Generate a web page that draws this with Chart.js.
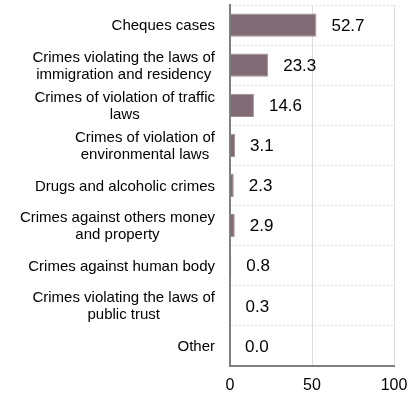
<!DOCTYPE html>
<html>
<head>
<meta charset="utf-8">
<script src="https://cdn.jsdelivr.net/npm/chart.js@4/dist/chart.umd.min.js"></script>
<style>
html,body{margin:0;padding:0;background:#fff;}
#wrap{width:419px;height:394px;position:relative;}
</style>
</head>
<body>
<div id="wrap"><canvas id="c" width="419" height="394"></canvas></div>
<script>
const categories = [
  "Cheques cases",
  ["Crimes violating the laws of", "immigration and residency"],
  ["Crimes of violation of traffic", "laws"],
  ["Crimes of violation of", "environmental laws"],
  "Drugs and alcoholic crimes",
  ["Crimes against others money", "and property"],
  "Crimes against human body",
  ["Crimes violating the laws of", "public trust"],
  "Other"
];
const values = [52.7, 23.3, 14.6, 3.1, 2.3, 2.9, 0.8, 0.3, 0.0];
const xTicks = [0, 50, 100];

const FONT = '"Liberation Sans", Arial, sans-serif';

const customLabels = {
  id: 'customLabels',
  afterDatasetsDraw(chart) {
    const ctx = chart.ctx;
    const meta = chart.getDatasetMeta(0);
    const yScale = chart.scales.y;
    ctx.save();
    // value labels
    ctx.font = '17px ' + FONT;
    ctx.fillStyle = '#000';
    ctx.textBaseline = 'middle';
    ctx.textAlign = 'left';
    meta.data.forEach((bar, i) => {
      ctx.fillText(values[i].toFixed(1), bar.x + 15, bar.y + 1);
    });
    // category labels: block right-aligned, lines centered
    ctx.font = '15px ' + FONT;
    ctx.textAlign = 'center';
    const rightEdge = 215;
    const lh = 17;
    categories.forEach((lab, i) => {
      const lines = Array.isArray(lab) ? lab : [lab];
      const maxW = Math.max(...lines.map(l => ctx.measureText(l).width));
      const cx = rightEdge - maxW / 2;
      const cy = yScale.getPixelForTick(i) + 1;
      const y0 = cy - (lines.length - 1) * lh / 2;
      lines.forEach((l, j) => ctx.fillText(l, cx, y0 + j * lh));
    });
    ctx.restore();
  }
};

new Chart(document.getElementById('c'), {
  type: 'bar',
  data: {
    labels: categories,
    datasets: [{
      data: values,
      backgroundColor: '#806b74',
      borderColor: '#a08d95',
      borderWidth: 1,
      categoryPercentage: 0.58,
      barPercentage: 1.0
    }]
  },
  options: {
    indexAxis: 'y',
    responsive: false,
    animation: false,
    layout: { padding: { top: 5, right: 25, left: 0, bottom: 0 } },
    plugins: { legend: { display: false }, tooltip: { enabled: false } },
    scales: {
      x: {
        min: 0, max: 100,
        afterBuildTicks(scale) { scale.ticks = xTicks.map(v => ({ value: v })); },
        afterFit(scale) { scale.height = 28; },
        grid: { color: '#dcdcdc', lineWidth: 1, drawTicks: false },
        border: { display: true, color: '#808080', width: 2 },
        ticks: {
          color: '#000',
          padding: 10,
          maxRotation: 0,
          font: { family: FONT, size: 16 }
        }
      },
      y: {
        afterFit(scale) { scale.width = 230; },
        grid: { color: '#e0e0e0', lineWidth: 1, drawTicks: false, offset: true },
        border: { display: true, color: '#808080', width: 2, dash: [2, 2] },
        ticks: { display: false, autoSkip: false }
      }
    }
  },
  plugins: [customLabels]
});
</script>
</body>
</html>
